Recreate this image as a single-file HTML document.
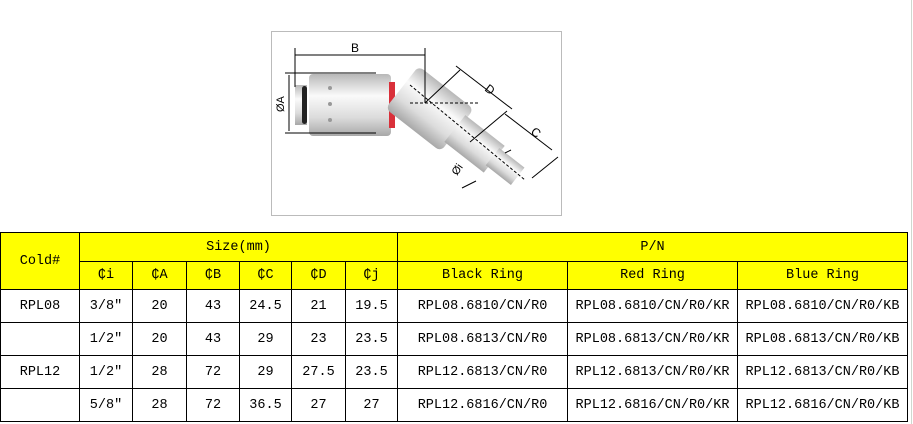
<!DOCTYPE html>
<html><head><meta charset="utf-8"><style>
body{margin:0;width:913px;height:424px;background:#fff;position:relative;overflow:hidden;font-family:"Liberation Mono","Noto Sans CJK SC",monospace;}
table{position:absolute;left:0;top:232px;border-collapse:collapse;table-layout:fixed;}
td{border:1px solid #000;text-align:center;font-size:13.5px;padding:0;color:#000;white-space:nowrap;}
.y td{background:#ff0;}
</style></head><body>
<svg style="position:absolute;left:0;top:0" width="913" height="230">
<rect x="271.5" y="31.5" width="290" height="184" fill="#fff" stroke="#bbb"/>
<defs><linearGradient id="g" x1="0" y1="0" x2="0" y2="1"><stop offset="0" stop-color="#b8b8b8"/><stop offset=".35" stop-color="#fafafa"/><stop offset=".7" stop-color="#dcdcdc"/><stop offset="1" stop-color="#a8a8a8"/></linearGradient></defs>
<rect x="295" y="85" width="12" height="40" fill="url(#g)"/>
<rect x="302" y="86" width="5" height="38" rx="2.5" fill="#222"/>
<rect x="309" y="74" width="82" height="62" rx="4" fill="url(#g)"/>
<circle cx="330" cy="88" r="2" fill="#999"/><circle cx="330" cy="104" r="2" fill="#999"/><circle cx="330" cy="120" r="2" fill="#999"/>
<rect x="389" y="82" width="6" height="46" fill="#d9303a"/>
<g transform="translate(420,100) rotate(38)">
<rect x="-22" y="-26" width="70" height="54" rx="6" fill="url(#g)"/>
<rect x="45" y="-16" width="50" height="34" fill="url(#g)"/>
<rect x="92" y="-11" width="32" height="22" fill="url(#g)"/>
</g>
<g stroke="#000" fill="none" stroke-width="1">
<line x1="295" y1="55" x2="425" y2="55"/><line x1="295" y1="48" x2="295" y2="87"/><line x1="425" y1="48" x2="425" y2="103"/>
<line x1="285" y1="73" x2="376" y2="73"/><line x1="285" y1="133" x2="376" y2="133"/><line x1="289" y1="75" x2="289" y2="131"/>
<line x1="425" y1="103" x2="460" y2="70"/><line x1="456" y1="66" x2="512" y2="109"/>
<line x1="505" y1="114" x2="552" y2="150"/><line x1="470" y1="142" x2="507" y2="111"/><line x1="532" y1="178" x2="558" y2="157"/>
<line x1="410" y1="103" x2="478" y2="103" stroke-dasharray="3,2"/>
<line x1="410" y1="85" x2="525" y2="180" stroke-dasharray="3,2"/>
<line x1="462" y1="188" x2="476" y2="181"/><line x1="505" y1="153" x2="511" y2="150"/>
</g>
<text x="351" y="52" font-family="Liberation Sans" font-size="12">B</text>
<text x="484" y="90" font-family="Liberation Sans" font-size="12" transform="rotate(38 484 90)">D</text>
<text x="530" y="133" font-family="Liberation Sans" font-size="12" transform="rotate(38 530 133)">C</text>
<text x="284" y="112" font-family="Liberation Sans" font-size="11" transform="rotate(-90 284 112)">ØA</text>
<text x="457" y="176" font-family="Liberation Sans" font-size="11" transform="rotate(-55 457 176)">Øi</text>
</svg>
<div style="position:absolute;left:911px;top:0;width:1px;height:424px;background:#cfd8cf"></div>
<table>
<colgroup><col style="width:79px"><col style="width:53px"><col style="width:54px"><col style="width:53px"><col style="width:52px"><col style="width:54px"><col style="width:52px"><col style="width:170px"><col style="width:170px"><col style="width:170px"></colgroup>
<tr class="y" style="height:29px"><td rowspan="2">Cold#</td><td colspan="6">Size(mm)</td><td colspan="3">P/N</td></tr>
<tr class="y" style="height:28px"><td>₵i</td><td>₵A</td><td>₵B</td><td>₵C</td><td>₵D</td><td>₵j</td><td>Black Ring</td><td>Red Ring</td><td>Blue Ring</td></tr>
<tr style="height:33px"><td>RPL08</td><td>3/8"</td><td>20</td><td>43</td><td>24.5</td><td>21</td><td>19.5</td><td>RPL08.6810/CN/R0</td><td>RPL08.6810/CN/R0/KR</td><td>RPL08.6810/CN/R0/KB</td></tr>
<tr style="height:33px"><td></td><td>1/2"</td><td>20</td><td>43</td><td>29</td><td>23</td><td>23.5</td><td>RPL08.6813/CN/R0</td><td>RPL08.6813/CN/R0/KR</td><td>RPL08.6813/CN/R0/KB</td></tr>
<tr style="height:33px"><td>RPL12</td><td>1/2"</td><td>28</td><td>72</td><td>29</td><td>27.5</td><td>23.5</td><td>RPL12.6813/CN/R0</td><td>RPL12.6813/CN/R0/KR</td><td>RPL12.6813/CN/R0/KB</td></tr>
<tr style="height:33px"><td></td><td>5/8"</td><td>28</td><td>72</td><td>36.5</td><td>27</td><td>27</td><td>RPL12.6816/CN/R0</td><td>RPL12.6816/CN/R0/KR</td><td>RPL12.6816/CN/R0/KB</td></tr>
</table>
</body></html>
